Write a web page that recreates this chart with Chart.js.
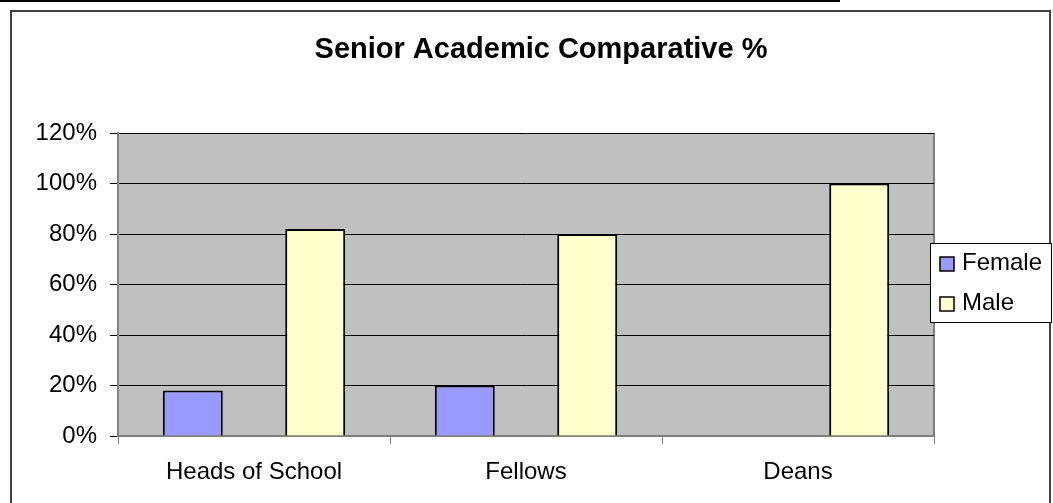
<!DOCTYPE html>
<html>
<head>
<meta charset="utf-8">
<title>Senior Academic Comparative %</title>
<script src="https://cdn.jsdelivr.net/npm/chart.js@4"></script>
<style>
  html, body { margin:0; padding:0; background:#fff; }
  canvas { display:block; }
</style>
</head>
<body>
<canvas id="chart" width="1053" height="503"></canvas>
<script>
var categories = ['Heads of School', 'Fellows', 'Deans'];
var femalePct  = [18, 20, 0];
var malePct    = [82, 80, 100];
var seriesNames = ['Female', 'Male'];
var yMax = 120, yStep = 20;
var chartTitle = 'Senior Academic Comparative %';
var FONT = '"Liberation Sans", Arial, sans-serif';

// frame, plot background, title and legend drawn like the old spreadsheet chart
var frame = {
  id: 'frame',
  beforeDraw: function(c){
    var ctx = c.ctx, a = c.chartArea;
    ctx.save();
    ctx.fillStyle = '#fff';
    ctx.fillRect(0, 0, c.width, c.height);
    ctx.fillStyle = '#000';
    ctx.fillRect(0, 0, 840, 2);
    ctx.strokeStyle = '#404040';
    ctx.lineWidth = 2;
    ctx.strokeRect(11, 11, 1039, c.height + 10);
    ctx.fillStyle = '#c0c0c0';
    ctx.fillRect(a.left, a.top, a.right - a.left, a.bottom - a.top);
    ctx.strokeStyle = '#808080';
    ctx.lineWidth = 2;
    ctx.beginPath();
    ctx.moveTo(a.right, a.top); ctx.lineTo(a.right, a.bottom);
    ctx.stroke();
    ctx.fillStyle = '#000';
    ctx.font = 'bold 29px ' + FONT;
    ctx.textAlign = 'center';
    ctx.textBaseline = 'alphabetic';
    ctx.fillText(chartTitle, 541, 58);
    ctx.restore();
  },
  afterDraw: function(c){
    var ctx = c.ctx;
    var x = 930, y = 243, w = 121, h = 79;
    ctx.save();
    ctx.fillStyle = '#fff';
    ctx.fillRect(x, y, w, h);
    ctx.strokeStyle = '#000';
    ctx.lineWidth = 1;
    ctx.strokeRect(x + 0.5, y + 0.5, w, h);
    ctx.font = '24px ' + FONT;
    ctx.textBaseline = 'middle';
    ctx.textAlign = 'left';
    var ds = c.data.datasets;
    for (var i = 0; i < ds.length; i++) {
      var cy = 264 + i * 40;
      ctx.fillStyle = ds[i].backgroundColor;
      ctx.fillRect(940, cy - 7, 14, 14);
      ctx.lineWidth = 1.5;
      ctx.strokeStyle = '#000';
      ctx.strokeRect(940, cy - 7, 14, 14);
      ctx.fillStyle = '#000';
      ctx.fillText(ds[i].label, 962, cy - 1);
    }
    ctx.restore();
  }
};

new Chart(document.getElementById('chart'), {
  type: 'bar',
  data: {
    labels: categories,
    datasets: [
      { label: seriesNames[0], data: femalePct, backgroundColor: '#9999ff', borderColor: '#000', borderWidth: 2 },
      { label: seriesNames[1], data: malePct,   backgroundColor: '#ffffcc', borderColor: '#000', borderWidth: 2 }
    ]
  },
  options: {
    responsive: false,
    animation: false,
    devicePixelRatio: 1,
    layout: { padding: { top: 133, right: 119, left: 0, bottom: 0 } },
    categoryPercentage: 0.9,
    barPercentage: 0.49,
    plugins: {
      legend: { display: false },
      title: { display: false },
      tooltip: { enabled: false }
    },
    scales: {
      x: {
        grid: { drawOnChartArea: false, color: '#808080', tickLength: 8, offset: true },
        border: { color: '#808080', width: 2 },
        ticks: { color: '#000', padding: 14, font: { size: 24, family: FONT } },
        afterFit: function(s){ s.height = 67; }
      },
      y: {
        min: 0, max: yMax,
        grid: { color: '#000', lineWidth: 1, tickLength: 8 },
        border: { color: '#808080', width: 2 },
        ticks: {
          stepSize: yStep, color: '#000', padding: 13,
          font: { size: 24, family: FONT },
          callback: function(v){ return v + '%'; }
        },
        afterFit: function(s){ s.width = 118; }
      }
    }
  },
  plugins: [frame]
});
</script>
</body>
</html>
